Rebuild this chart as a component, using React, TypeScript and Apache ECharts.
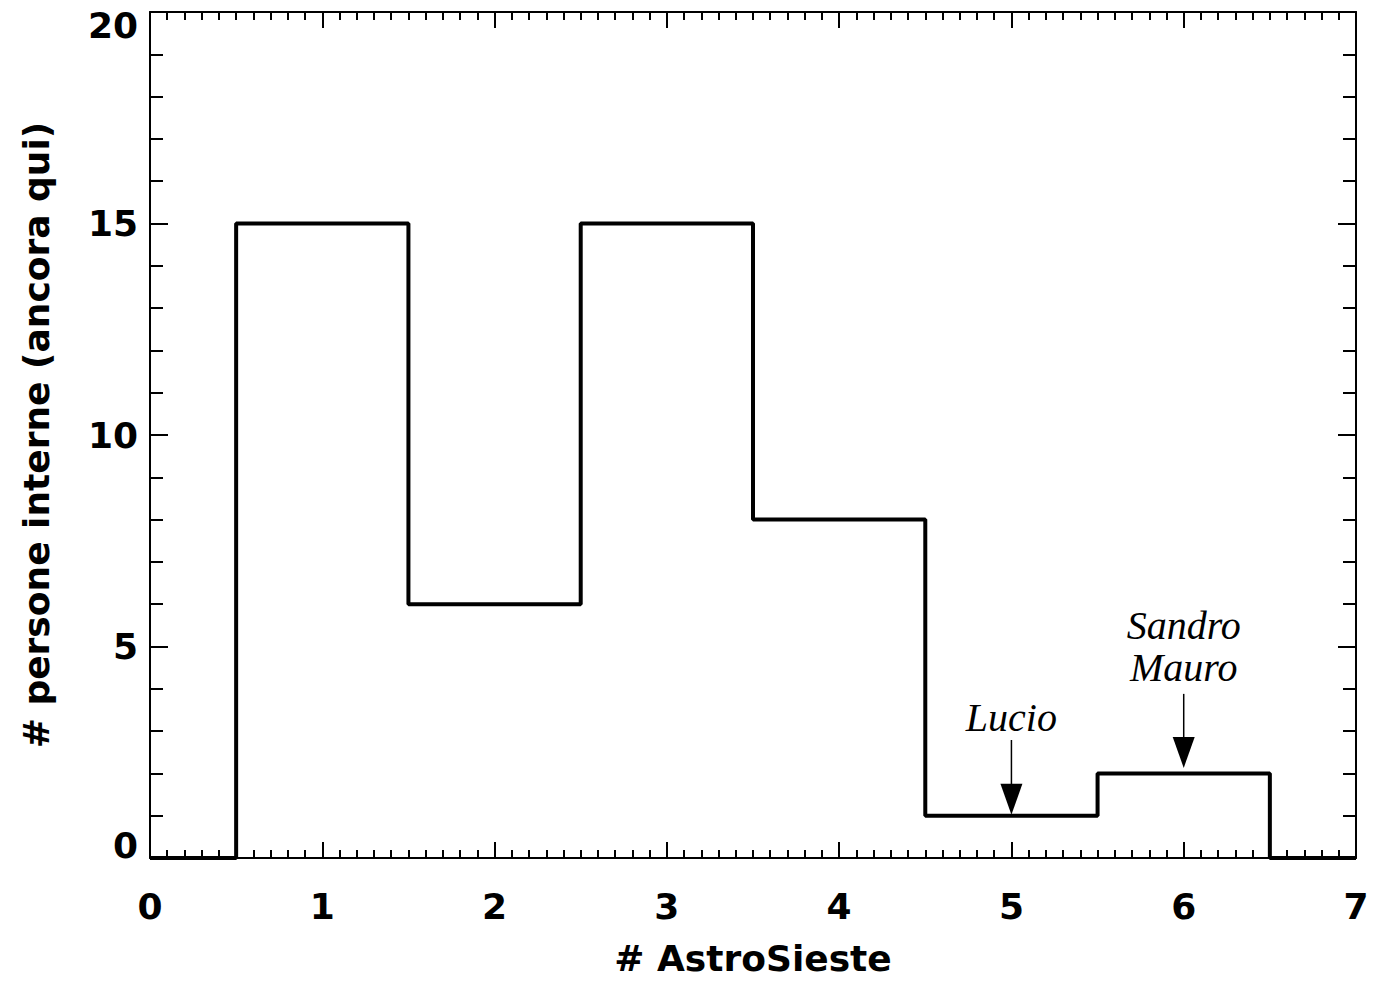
import React, { useEffect, useRef } from "react";
import * as echarts from "echarts";

const xValues = [0, 1, 2, 3, 4, 5, 6, 7];
const counts = [0, 15, 6, 15, 8, 1, 2, 0];
const xTitle = "# AstroSieste";
const yTitle = "# persone interne (ancora qui)";
const annotationNames = ["Lucio", "Sandro\nMauro"];
const annotationX = [5, 6];
const annotationLabelY = [3.33, 5.0];
const arrowFromY = [2.79, 3.88];
const arrowToY = [1.02, 2.13];

const axisFont = "DejaVu Sans";

export default function App() {
  const ref = useRef<HTMLDivElement>(null);
  useEffect(() => {
    if (!ref.current) return;
    const chart = echarts.init(ref.current, null, { renderer: "svg" });
    const lineStyle = { color: "#000", width: 2 };
    const baseX = {
      type: "value",
      min: 0,
      max: 7,
      interval: 1,
      axisLine: { show: true, onZero: false, lineStyle },
      axisTick: { show: true, inside: true, length: 16, lineStyle },
      minorTick: { show: true, splitNumber: 10, length: 8, lineStyle: { color: "#000", width: 2 } },
      splitLine: { show: false },
    };
    const baseY = {
      type: "value",
      min: 0,
      max: 20,
      interval: 5,
      axisLine: { show: true, onZero: false, lineStyle },
      axisTick: { show: true, inside: true, length: 18, lineStyle },
      minorTick: { show: true, splitNumber: 5, length: 13, lineStyle: { color: "#000", width: 2 } },
      splitLine: { show: false },
    };
    const labelStyle = {
      color: "#000",
      fontFamily: axisFont,
      fontSize: 36,
      fontWeight: "bold",
    };
    chart.setOption({
      animation: false,
      backgroundColor: "#fff",
      grid: { left: 150, right: 18, top: 12, bottom: 128, containLabel: false },
      xAxis: [
        {
          ...baseX,
          position: "bottom",
          axisLabel: { ...labelStyle, margin: 30 },
          name: xTitle,
          nameLocation: "middle",
          nameGap: 82,
          nameTextStyle: { ...labelStyle },
        },
        { ...baseX, position: "top", axisLabel: { show: false } },
      ],
      yAxis: [
        {
          ...baseY,
          position: "left",
          axisLabel: {
            ...labelStyle,
            margin: 12,
            lineHeight: 26,
            verticalAlignMaxLabel: "top",
            verticalAlignMinLabel: "bottom",
          },
          name: yTitle,
          nameLocation: "middle",
          nameGap: 96,
          nameTextStyle: { ...labelStyle },
        },
        { ...baseY, position: "right", axisLabel: { show: false } },
      ],
      series: [
        {
          type: "line",
          step: "middle",
          data: xValues.map((x, i) => [x, counts[i]]),
          symbol: "none",
          lineStyle: { color: "#000", width: 4 },
          clip: false,
          markPoint: {
            symbol: "rect",
            symbolSize: 1,
            itemStyle: { color: "transparent" },
            label: {
              show: true,
              position: "inside",
              color: "#000",
              fontFamily: "Liberation Serif",
              fontStyle: "italic",
              fontSize: 40,
              lineHeight: 42,
              formatter: (p: any) => p.name,
            },
            data: annotationNames.map((n, i) => ({
              name: n,
              coord: [annotationX[i], annotationLabelY[i]],
            })),
          },
        },
        {
          type: "custom",
          silent: true,
          data: annotationX.map((x, i) => [x, arrowFromY[i], arrowToY[i]]),
          renderItem: (_params: any, api: any) => {
            const top = api.coord([api.value(0), api.value(1)]);
            const tip = api.coord([api.value(0), api.value(2)]);
            const headH = 31;
            const headW = 22;
            return {
              type: "group",
              children: [
                {
                  type: "line",
                  shape: { x1: top[0], y1: top[1], x2: tip[0], y2: tip[1] - headH + 2 },
                  style: { stroke: "#000", lineWidth: 1.5 },
                },
                {
                  type: "polygon",
                  shape: {
                    points: [
                      [tip[0], tip[1]],
                      [tip[0] - headW / 2, tip[1] - headH],
                      [tip[0] + headW / 2, tip[1] - headH],
                    ],
                  },
                  style: { fill: "#000" },
                },
              ],
            };
          },
        },
      ],
    });
    return () => chart.dispose();
  }, []);
  return (
    <div
      ref={ref}
      style={{ position: "absolute", left: 0, top: 0, width: 1374, height: 986 }}
    />
  );
}
